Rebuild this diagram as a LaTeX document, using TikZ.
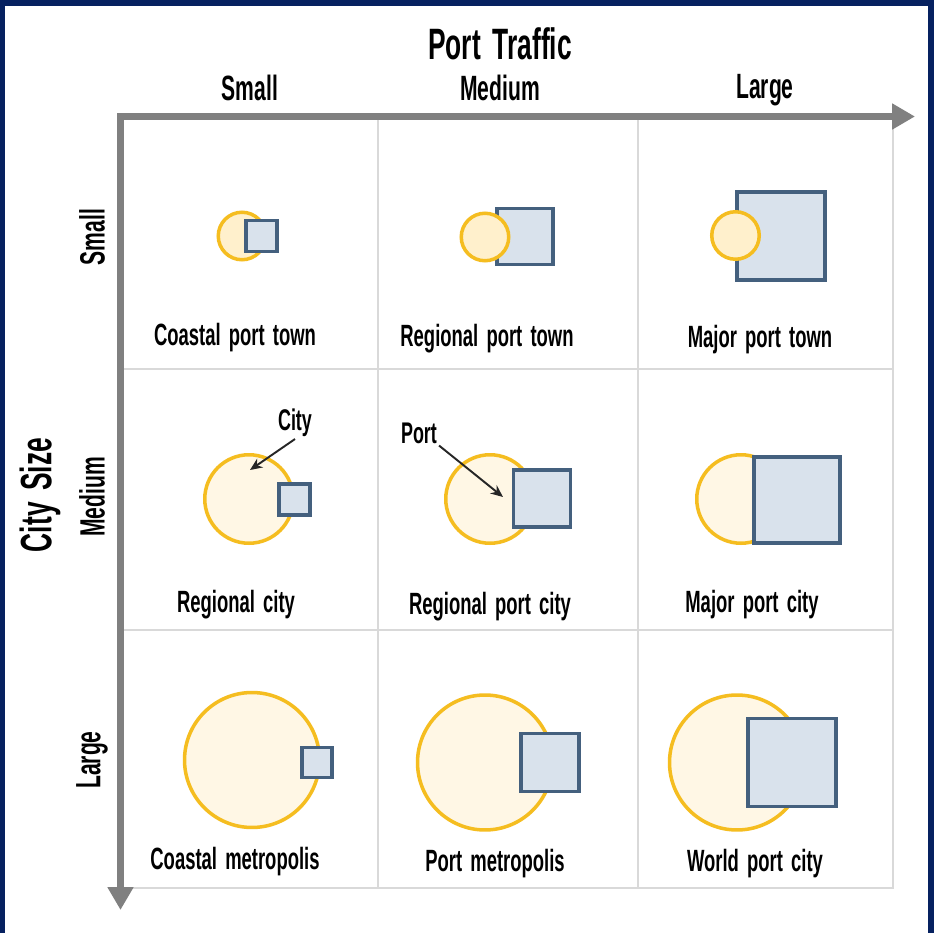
\documentclass[tikz,border=0pt]{standalone}
\usepackage{fontspec}
\setmainfont{Liberation Sans}[FakeStretch=0.6, WordSpace=1.6]
\usetikzlibrary{arrows.meta}
\definecolor{frameNavy}{RGB}{6,33,96}
\definecolor{axisGray}{RGB}{128,128,128}
\definecolor{gridGray}{RGB}{217,217,217}
\definecolor{cityLine}{RGB}{245,189,32}
\definecolor{cityFill}{RGB}{255,240,204}
\definecolor{cityFillLight}{RGB}{255,247,229}
\definecolor{portLine}{RGB}{68,96,126}
\definecolor{portFill}{RGB}{217,226,236}
\newcommand{\titleSize}{\fontsize{25}{27}\selectfont\bfseries}
\newcommand{\axisSize}{\fontsize{20}{22}\selectfont\bfseries}
\newcommand{\cellSize}{\fontsize{17.5}{20}\selectfont\bfseries}
\newcommand{\noteSize}{\fontsize{17}{19}\selectfont\bfseries}

\begin{document}
\begin{tikzpicture}[x=0.02cm, y=-0.02cm]
  \tikzset{
    city/.style={circle, draw=cityLine, line width=2pt, fill=cityFill, inner sep=0pt, minimum size=#1},
    bigcity/.style={city=#1, fill=cityFillLight},
    port/.style={rectangle, draw=portLine, line width=2.2pt, fill=portFill, inner sep=0pt, minimum size=#1},
    celltext/.style={font=\cellSize, inner sep=0pt},
    axistext/.style={font=\axisSize, inner sep=0pt},
    note/.style={-{Stealth[length=7pt, width=6pt]}, line width=1.1pt, draw=black!85},
    axisline/.style={line width=4pt, draw=axisGray, {Triangle[length=13pt, width=14pt]}-{Triangle[length=13pt, width=14pt]}}
  }
  % frame and size
  \useasboundingbox (0,0) rectangle (934,933);
  \fill[frameNavy] (0,0) rectangle (934,933);
  \fill[white] (5,6) rectangle (928,933);

  % grid
  \draw[gridGray, line width=1.7pt] (120,117) rectangle (893,888);
  \draw[gridGray, line width=1.7pt] (378,117) -- (378,888) (638,117) -- (638,888);
  \draw[gridGray, line width=1.7pt] (120,369) -- (893,369) (120,630) -- (893,630);

  % axes
  \coordinate (xTip) at (915,116.5);
  \coordinate (corner) at (120.5,116.5);
  \coordinate (yTip) at (120.5,910);
  \draw[axisline, line join=miter] (xTip) -- (corner) -- (yTip);

  % axis labels
  \node[font=\titleSize, inner sep=0pt] (traffic) at (500,44) {Port Traffic};
  \node[axistext] (trafficSmall) at (250,88) {Small};
  \node[axistext] (trafficMedium) at (500,88) {Medium};
  \node[axistext] (trafficLarge) at (765,90) {Large};
  \node[font=\titleSize, inner sep=0pt, rotate=90] (size) at (40,495) {City Size};
  \node[axistext, rotate=90] (sizeSmall) at (92,237) {Small};
  \node[axistext, rotate=90] (sizeMedium) at (92,497) {Medium};
  \node[axistext, rotate=90] (sizeLarge) at (92,760) {Large};

  % small cities
  \node[city=0.95cm] (city-1-1) at (242,236) {};
  \node[port=0.62cm] (port-1-1) at (261.5,236) {};
  \node[port=1.12cm] (port-1-2) at (525,236.5) {};
  \node[city=0.95cm] (city-1-2) at (485,237) {};
  \node[port=1.76cm] (port-1-3) at (781,236) {};
  \node[city=0.95cm] (city-1-3) at (735.5,235.5) {};
  \node[celltext] (name-1-1) at (235,338) {Coastal port town};
  \node[celltext] (name-1-2) at (487,339) {Regional port town};
  \node[celltext] (name-1-3) at (760,340) {Major port town};

  % medium cities
  \node[bigcity=1.77cm] (city-2-1) at (249,499) {};
  \node[port=0.62cm] (port-2-1) at (294.5,499.5) {};
  \node[bigcity=1.77cm] (city-2-2) at (490,499) {};
  \node[port=1.14cm] (port-2-2) at (542,498.5) {};
  \node[bigcity=1.77cm] (city-2-3) at (741,499) {};
  \node[port=1.72cm] (port-2-3) at (797,500) {};
  \node[celltext] (name-2-1) at (236,605) {Regional city};
  \node[celltext] (name-2-2) at (490,607) {Regional port city};
  \node[celltext] (name-2-3) at (752,605) {Major port city};

  % pointers
  \node[font=\noteSize, inner sep=1pt] (cityNote) at (295,423) {City};
  \coordinate (cityTip) at (250,470);
  \draw[note] (cityNote.south) -- (cityTip);
  \node[font=\noteSize, inner sep=1pt] (portNote) at (419,433) {Port};
  \coordinate (portTip) at (503,497);
  \draw[note] (portNote.south east) -- (portTip);

  % large cities
  \node[bigcity=2.7cm] (city-3-1) at (252,760) {};
  \node[port=0.6cm] (port-3-1) at (317,762.5) {};
  \node[bigcity=2.7cm] (city-3-2) at (485,762.5) {};
  \node[port=1.16cm] (port-3-2) at (550,762.5) {};
  \node[bigcity=2.7cm] (city-3-3) at (737,762.5) {};
  \node[port=1.76cm] (port-3-3) at (792,762.5) {};
  \node[celltext] (name-3-1) at (235,862) {Coastal metropolis};
  \node[celltext] (name-3-2) at (495,864) {Port metropolis};
  \node[celltext] (name-3-3) at (755,864) {World port city};
\end{tikzpicture}
\end{document}
